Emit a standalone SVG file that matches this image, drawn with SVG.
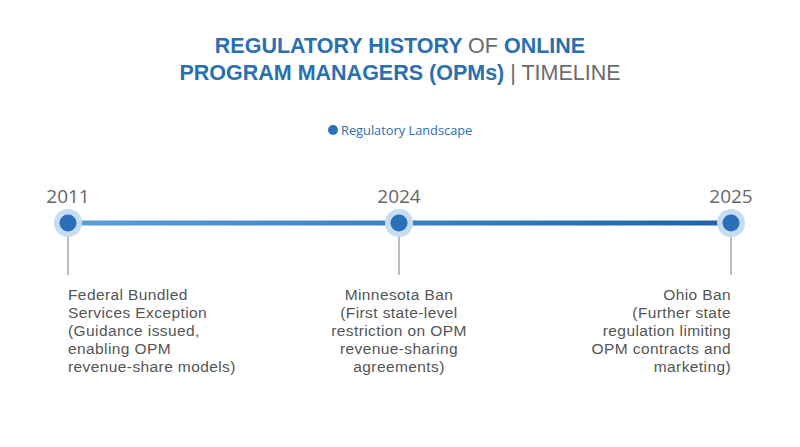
<svg xmlns="http://www.w3.org/2000/svg" width="800" height="447" viewBox="0 0 800 447">
<defs>
<linearGradient id="lg" x1="68" y1="0" x2="731" y2="0" gradientUnits="userSpaceOnUse">
<stop offset="0" stop-color="#5b9fd6"/>
<stop offset="1" stop-color="#1f62a6"/>
</linearGradient>
<style>
.t{font-family:"Liberation Sans",Arial,sans-serif;font-size:21.5px;font-weight:700;fill:#2a6fb0}
.tg{font-weight:400;fill:#6b6b6b}
.lg{font-family:"Open Sans","Noto Sans",sans-serif;font-size:12.8px;fill:#2a6fb0}
.yr{font-family:"Open Sans","Noto Sans",sans-serif;font-size:19px;fill:#666}
.lb{font-family:"Liberation Sans",Arial,sans-serif;font-size:15.5px;letter-spacing:0.4px;fill:#555}
.halo{fill:#c6dcf0}
.dot{fill:#2a70b8}
.stem{stroke:#a8a8a8;stroke-width:1.5}
</style>
</defs>
<rect width="800" height="447" fill="#fff"/>
<g id="title">
<text class="t" x="400" y="53" text-anchor="middle">REGULATORY HISTORY <tspan class="tg">OF</tspan> ONLINE</text>
<text class="t" x="400" y="80" text-anchor="middle">PROGRAM MANAGERS (OPMs) <tspan class="tg">| TIMELINE</tspan></text>
</g>
<g id="legend">
<circle cx="333" cy="130" r="5" class="dot"/>
<text class="lg" x="341" y="134.5">Regulatory Landscape</text>
</g>
<g id="connectors">
<line x1="68" y1="223" x2="731" y2="223" stroke="url(#lg)" stroke-width="5"/>
<line class="stem" x1="68" y1="237" x2="68" y2="275"/>
<line class="stem" x1="399" y1="237" x2="399" y2="275"/>
<line class="stem" x1="731" y1="237" x2="731" y2="275"/>
</g>
<g id="node-2011">
<circle cx="68" cy="223" r="14" class="halo"/>
<circle cx="68" cy="223" r="8.5" class="dot"/>
<text class="yr" x="68" y="203" text-anchor="middle">2011</text>
<text class="lb" x="68" y="300">Federal Bundled</text>
<text class="lb" x="68" y="318">Services Exception</text>
<text class="lb" x="68" y="336">(Guidance issued,</text>
<text class="lb" x="68" y="354">enabling OPM</text>
<text class="lb" x="68" y="372">revenue-share models)</text>
</g>
<g id="node-2024">
<circle cx="399" cy="223" r="14" class="halo"/>
<circle cx="399" cy="223" r="8.5" class="dot"/>
<text class="yr" x="399" y="203" text-anchor="middle">2024</text>
<text class="lb" x="399" y="300" text-anchor="middle">Minnesota Ban</text>
<text class="lb" x="399" y="318" text-anchor="middle">(First state-level</text>
<text class="lb" x="399" y="336" text-anchor="middle">restriction on OPM</text>
<text class="lb" x="399" y="354" text-anchor="middle">revenue-sharing</text>
<text class="lb" x="399" y="372" text-anchor="middle">agreements)</text>
</g>
<g id="node-2025">
<circle cx="731" cy="223" r="14" class="halo"/>
<circle cx="731" cy="223" r="8.5" class="dot"/>
<text class="yr" x="731" y="203" text-anchor="middle">2025</text>
<text class="lb" x="731" y="300" text-anchor="end">Ohio Ban</text>
<text class="lb" x="731" y="318" text-anchor="end">(Further state</text>
<text class="lb" x="731" y="336" text-anchor="end">regulation limiting</text>
<text class="lb" x="731" y="354" text-anchor="end">OPM contracts and</text>
<text class="lb" x="731" y="372" text-anchor="end">marketing)</text>
</g>
</svg>
